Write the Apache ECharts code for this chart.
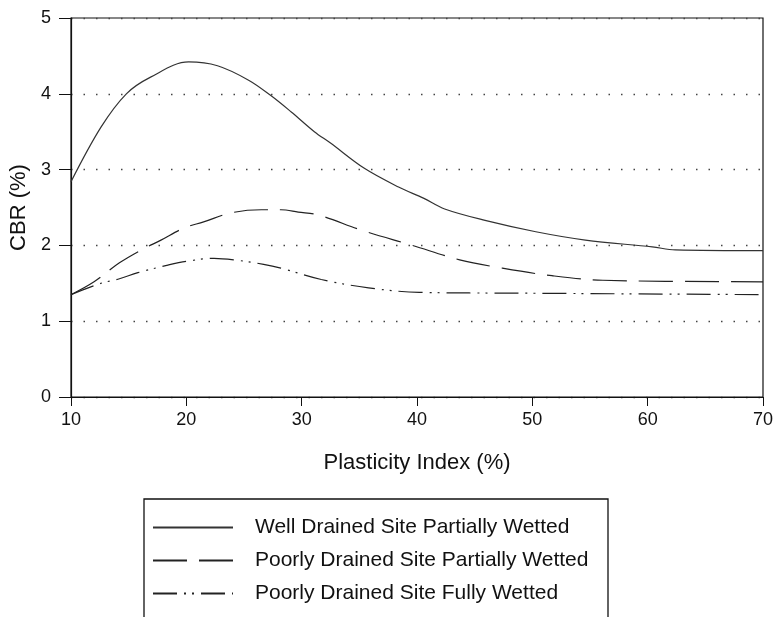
<!DOCTYPE html>
<html>
<head>
<meta charset="utf-8">
<script src="https://cdn.jsdelivr.net/npm/echarts@6/dist/echarts.min.js"></script>
<style>
html,body{margin:0;padding:0;background:#fff;}
#c{width:779px;height:617px;}
</style>
</head>
<body>
<div id="c"></div>
<script>
var seriesNames = ['Well Drained Site Partially Wetted', 'Poorly Drained Site Partially Wetted', 'Poorly Drained Site Fully Wetted'];
var xTicks = [10, 20, 30, 40, 50, 60, 70];
var yTicks = [0, 1, 2, 3, 4, 5];

var wellX = [10, 12.6, 14.8, 16.9, 20.2, 22.7, 25.4, 27.3, 29.1, 31.1, 32.5, 35.4, 38.4, 40.6, 42.4, 45.9, 50.3, 54.6, 60.4, 62.4, 70];
var wellY = [2.84, 3.56, 4.0, 4.22, 4.42, 4.37, 4.18, 3.98, 3.76, 3.50, 3.35, 3.02, 2.77, 2.62, 2.48, 2.33, 2.18, 2.07, 1.98, 1.94, 1.93];

var poorPartX = [10, 12, 14.2, 16.1, 17.8, 19.8, 21.5, 23.9, 26.5, 28.2, 29.7, 31.5, 35.2, 39.6, 43.7, 47.4, 51.7, 56.1, 70];
var poorPartY = [1.35, 1.52, 1.77, 1.94, 2.07, 2.23, 2.31, 2.43, 2.47, 2.47, 2.44, 2.40, 2.20, 2.00, 1.81, 1.70, 1.60, 1.54, 1.52];

var poorFullX = [10, 12.6, 14.2, 15.8, 18.4, 20, 22.4, 24.1, 26.7, 28.2, 31.7, 35.8, 40.2, 48.9, 70];
var poorFullY = [1.35, 1.50, 1.56, 1.64, 1.74, 1.79, 1.83, 1.81, 1.75, 1.70, 1.55, 1.44, 1.38, 1.37, 1.35];

function pairs(xs, ys) { return xs.map(function (x, i) { return [x, ys[i]]; }); }

var FONT = 'Liberation Sans, Arial, sans-serif';
var chart = echarts.init(document.getElementById('c'));
chart.setOption({
  animation: false,
  backgroundColor: '#fff',
  grid: { left: 71, right: 16, top: 18, bottom: 220, show: true, borderColor: '#111', borderWidth: 1.2, backgroundColor: 'transparent' },
  xAxis: {
    type: 'value', min: xTicks[0], max: xTicks[xTicks.length - 1], interval: 10,
    name: 'Plasticity Index (%)', nameLocation: 'middle', nameGap: 55,
    nameTextStyle: { fontFamily: FONT, fontSize: 22, color: '#111' },
    axisLine: { show: true, lineStyle: { color: '#111', width: 1.2 } },
    axisTick: { show: true, length: 9, inside: false, lineStyle: { color: '#111' } },
    axisLabel: { fontFamily: FONT, fontSize: 18, color: '#111', margin: 14 },
    splitLine: { show: false }
  },
  yAxis: {
    type: 'value', min: yTicks[0], max: yTicks[yTicks.length - 1], interval: 1,
    name: 'CBR (%)', nameLocation: 'middle', nameGap: 34, nameRotate: 90,
    nameTextStyle: { fontFamily: FONT, fontSize: 22, color: '#111' },
    axisLine: { show: true, lineStyle: { color: '#111', width: 1.2 } },
    axisTick: { show: true, length: 12, inside: false, lineStyle: { color: '#111' } },
    axisLabel: { fontFamily: FONT, fontSize: 18, color: '#111', margin: 20 },
    splitLine: { show: true, lineStyle: { color: '#444', width: 1.3, type: [1.5, 11] } }
  },
  legend: {
    orient: 'vertical', left: 147, top: 512,
    itemWidth: 80, itemHeight: 16, itemGap: 12,
    itemStyle: { color: 'rgba(0,0,0,0)', borderWidth: 0, opacity: 0 },
    textStyle: { fontFamily: FONT, fontSize: 21, color: '#111', padding: [0, 0, 0, 17], lineHeight: 21 },
    data: seriesNames
  },
  graphic: [{
    type: 'rect', shape: { x: 144, y: 499, width: 464, height: 200 },
    style: { fill: 'none', stroke: '#111', lineWidth: 1.3 }, silent: true
  }],
  series: [
    { name: seriesNames[0], type: 'line', data: pairs(wellX, wellY), smooth: 0.35, symbol: 'none', showSymbol: false,
      lineStyle: { color: '#333', width: 1.2, type: 'solid' }, itemStyle: { color: '#333' } },
    { name: seriesNames[1], type: 'line', data: pairs(poorPartX, poorPartY), smooth: 0.35, symbol: 'none', showSymbol: false,
      lineStyle: { color: '#222', width: 1.2, type: [34, 12] }, itemStyle: { color: '#222' } },
    { name: seriesNames[2], type: 'line', data: pairs(poorFullX, poorFullY), smooth: 0.35, symbol: 'none', showSymbol: false,
      lineStyle: { color: '#222', width: 1.2, type: [24, 7, 2, 6, 2, 7] }, itemStyle: { color: '#222' } }
  ]
});
</script>
</body>
</html>
